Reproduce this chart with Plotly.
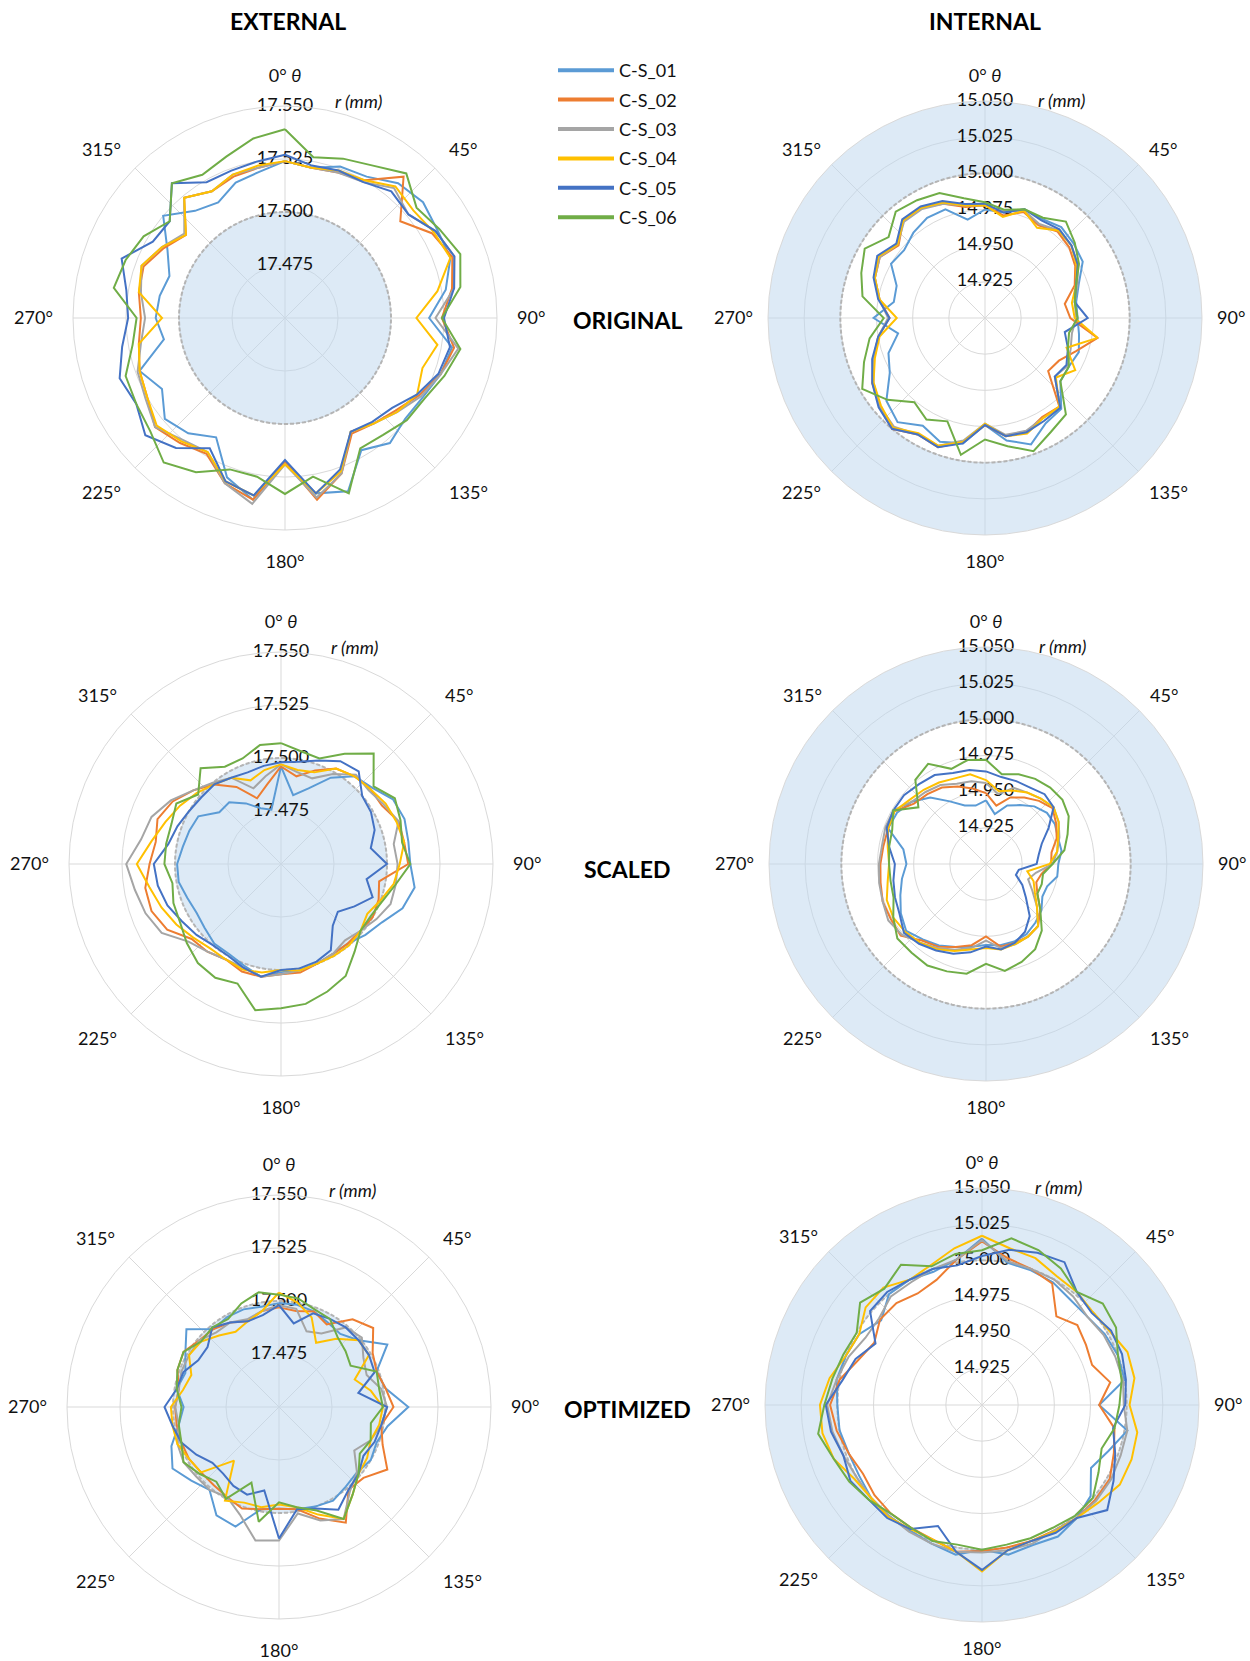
import numpy as np
import plotly.graph_objects as go

# ---------------- data ----------------
ANGLES = [0, 10, 20, 30, 40, 50, 60, 70, 80, 90, 100, 110, 120, 130, 140, 150, 160, 170,
          180, 190, 200, 210, 220, 230, 240, 250, 260, 270, 280, 290, 300, 310, 320, 330, 340, 350]
NAMES = ["C-S_01", "C-S_02", "C-S_03", "C-S_04", "C-S_05", "C-S_06"]
COLORS = ["#5B9BD5", "#ED7D31", "#A5A5A5", "#FFC000", "#4472C4", "#70AD47"]

ANG_TICKS = [0, 45, 90, 135, 180, 225, 270, 315]
ANG_LABELS = ["0° <i>θ</i>", "45°", "90°", "135°", "180°", "225°", "270°", "315°"]
EXT_TICKS = [17.475, 17.500, 17.525, 17.550]
EXT_TICK_TEXT = ["17.475", "17.500", "17.525", "17.550"]
INT_TICKS = [14.925, 14.950, 14.975, 15.000, 15.025, 15.050]
INT_TICK_TEXT = ["14.925", "14.950", "14.975", "15.000", "15.025", "15.050"]
EXT_RANGE = [17.45, 17.55]
INT_RANGE = [14.90, 15.05]
EXT_NOMINAL = 17.500
INT_NOMINAL = 15.000

# External - original
EO_01 = [17.524,17.522,17.526,17.527,17.533,17.535,17.533,17.533,17.527,17.518,17.530,17.528,17.525,17.524,17.527,17.522,17.537,17.534,17.518,17.537,17.530,17.515,17.521,17.524,17.517,17.523,17.508,17.511,17.510,17.508,17.514,17.525,17.516,17.513,17.518,17.520]
EO_02 = [17.524,17.522,17.523,17.525,17.537,17.521,17.530,17.534,17.530,17.524,17.531,17.528,17.523,17.518,17.515,17.513,17.528,17.537,17.518,17.537,17.533,17.524,17.527,17.530,17.525,17.523,17.520,17.518,17.520,17.521,17.516,17.511,17.524,17.519,17.521,17.522]
EO_03 = [17.524,17.522,17.523,17.524,17.530,17.526,17.532,17.535,17.531,17.521,17.533,17.528,17.524,17.519,17.515,17.512,17.528,17.536,17.519,17.539,17.533,17.523,17.525,17.530,17.526,17.524,17.519,17.516,17.519,17.522,17.517,17.512,17.524,17.519,17.522,17.522]
EO_04 = [17.524,17.522,17.524,17.525,17.531,17.529,17.531,17.533,17.523,17.512,17.523,17.519,17.522,17.519,17.515,17.512,17.527,17.534,17.519,17.535,17.532,17.523,17.526,17.529,17.525,17.523,17.520,17.508,17.520,17.522,17.517,17.511,17.524,17.519,17.522,17.523]
EO_05 = [17.527,17.523,17.524,17.524,17.528,17.526,17.532,17.535,17.531,17.525,17.529,17.527,17.522,17.516,17.514,17.512,17.526,17.534,17.517,17.535,17.532,17.521,17.530,17.536,17.531,17.533,17.528,17.524,17.526,17.532,17.522,17.521,17.533,17.524,17.524,17.525]
EO_06 = [17.539,17.527,17.530,17.533,17.539,17.531,17.534,17.538,17.534,17.524,17.534,17.530,17.526,17.525,17.522,17.521,17.538,17.526,17.533,17.526,17.526,17.534,17.539,17.533,17.531,17.530,17.523,17.520,17.532,17.530,17.527,17.521,17.533,17.528,17.531,17.536]

# Internal - original
IO_01 = [14.975,14.974,14.980,14.979,14.982,14.980,14.978,14.969,14.964,14.964,14.966,14.969,14.967,14.968,14.982,14.984,14.993,14.986,14.974,14.988,14.991,14.986,14.994,14.989,14.976,14.971,14.961,14.977,14.964,14.965,14.975,14.973,14.977,14.980,14.980,14.969]
IO_02 = [14.978,14.972,14.978,14.974,14.978,14.976,14.972,14.966,14.956,14.959,14.979,14.967,14.959,14.957,14.980,14.979,14.984,14.983,14.974,14.987,14.995,14.993,15.000,14.995,14.990,14.982,14.975,14.966,14.974,14.981,14.984,14.978,14.988,14.988,14.984,14.978]
IO_03 = [14.978,14.975,14.979,14.975,14.979,14.978,14.974,14.968,14.963,14.963,14.961,14.963,14.966,14.963,14.981,14.980,14.983,14.982,14.973,14.986,14.994,14.993,14.998,14.995,14.989,14.982,14.975,14.967,14.974,14.981,14.984,14.979,14.987,14.987,14.984,14.979]
IO_04 = [14.978,14.971,14.979,14.972,14.979,14.978,14.973,14.967,14.961,14.962,14.979,14.960,14.972,14.964,14.980,14.980,14.985,14.983,14.973,14.987,14.994,14.992,14.999,14.994,14.989,14.981,14.974,14.961,14.974,14.981,14.985,14.979,14.988,14.988,14.985,14.979]
IO_05 = [14.979,14.974,14.980,14.978,14.980,14.978,14.974,14.967,14.963,14.971,14.956,14.961,14.965,14.963,14.981,14.982,14.984,14.983,14.974,14.988,14.995,14.993,15.000,14.996,14.990,14.983,14.975,14.966,14.975,14.982,14.986,14.980,14.989,14.989,14.986,14.980]
IO_06 = [14.980,14.976,14.980,14.980,14.987,14.981,14.975,14.967,14.963,14.964,14.959,14.961,14.967,14.968,14.987,14.991,14.998,14.990,14.984,14.996,14.976,14.981,14.976,14.988,14.998,14.989,14.981,14.970,14.986,14.991,14.996,14.987,14.996,14.994,14.992,14.984]

# External - scaled
ES_01 = [17.496,17.483,17.488,17.497,17.504,17.506,17.511,17.512,17.511,17.511,17.514,17.511,17.505,17.502,17.499,17.499,17.500,17.501,17.501,17.504,17.501,17.499,17.499,17.497,17.496,17.497,17.499,17.499,17.497,17.496,17.495,17.488,17.488,17.483,17.478,17.476]
ES_02 = [17.496,17.492,17.497,17.502,17.504,17.505,17.505,17.509,17.509,17.510,17.497,17.499,17.500,17.499,17.499,17.499,17.500,17.502,17.502,17.504,17.504,17.502,17.504,17.505,17.512,17.515,17.515,17.512,17.510,17.512,17.509,17.504,17.499,17.492,17.483,17.488]
ES_03 = [17.497,17.494,17.493,17.499,17.505,17.504,17.506,17.509,17.504,17.505,17.505,17.505,17.502,17.499,17.497,17.499,17.500,17.501,17.502,17.504,17.502,17.502,17.504,17.507,17.515,17.518,17.520,17.523,17.517,17.515,17.510,17.504,17.500,17.497,17.488,17.492]
ES_04 = [17.497,17.495,17.496,17.502,17.504,17.505,17.507,17.508,17.509,17.506,17.504,17.500,17.497,17.499,17.500,17.500,17.500,17.501,17.500,17.502,17.503,17.502,17.502,17.504,17.507,17.510,17.513,17.518,17.512,17.508,17.505,17.502,17.499,17.497,17.492,17.495]
ES_05 = [17.498,17.499,17.502,17.506,17.507,17.500,17.499,17.497,17.493,17.500,17.491,17.496,17.490,17.485,17.488,17.497,17.499,17.500,17.500,17.504,17.502,17.500,17.500,17.502,17.504,17.507,17.509,17.510,17.504,17.502,17.500,17.499,17.499,17.497,17.496,17.497]
ES_06 = [17.507,17.504,17.503,17.510,17.518,17.507,17.512,17.510,17.508,17.511,17.505,17.501,17.499,17.499,17.504,17.511,17.514,17.517,17.518,17.520,17.510,17.512,17.511,17.508,17.505,17.504,17.502,17.505,17.505,17.505,17.507,17.501,17.509,17.503,17.503,17.507]

# Internal - scaled
IS_01 = [14.944,14.935,14.943,14.947,14.952,14.955,14.955,14.953,14.953,14.950,14.950,14.945,14.945,14.950,14.953,14.956,14.957,14.957,14.956,14.958,14.961,14.965,14.968,14.972,14.968,14.963,14.959,14.955,14.958,14.972,14.971,14.967,14.960,14.950,14.943,14.941]
IS_02 = [14.949,14.941,14.949,14.953,14.957,14.960,14.956,14.952,14.946,14.945,14.939,14.937,14.941,14.949,14.956,14.958,14.958,14.958,14.950,14.957,14.961,14.966,14.969,14.977,14.976,14.976,14.974,14.973,14.972,14.972,14.973,14.965,14.963,14.961,14.957,14.953]
IS_03 = [14.956,14.949,14.956,14.957,14.959,14.961,14.958,14.954,14.950,14.946,14.935,14.931,14.937,14.946,14.956,14.958,14.959,14.959,14.953,14.959,14.963,14.967,14.971,14.976,14.978,14.976,14.975,14.974,14.973,14.974,14.974,14.967,14.965,14.963,14.959,14.958]
IS_04 = [14.958,14.951,14.954,14.957,14.959,14.961,14.958,14.953,14.950,14.944,14.929,14.935,14.939,14.946,14.956,14.958,14.959,14.960,14.958,14.960,14.964,14.968,14.971,14.973,14.974,14.973,14.969,14.967,14.969,14.972,14.973,14.969,14.967,14.965,14.963,14.963]
IS_05 = [14.964,14.961,14.961,14.961,14.963,14.961,14.950,14.941,14.937,14.935,14.923,14.922,14.929,14.936,14.947,14.954,14.958,14.960,14.957,14.962,14.966,14.969,14.972,14.974,14.969,14.967,14.965,14.963,14.968,14.973,14.974,14.974,14.972,14.971,14.967,14.966]
IS_06 = [14.972,14.963,14.966,14.968,14.969,14.969,14.966,14.960,14.955,14.946,14.940,14.941,14.941,14.949,14.960,14.968,14.972,14.975,14.969,14.977,14.979,14.981,14.980,14.980,14.974,14.968,14.967,14.967,14.968,14.969,14.974,14.961,14.976,14.980,14.970,14.973]

# External - optimized
EP_01 = [17.499,17.499,17.498,17.496,17.495,17.499,17.509,17.499,17.501,17.511,17.502,17.499,17.500,17.498,17.499,17.501,17.500,17.499,17.498,17.499,17.510,17.509,17.501,17.504,17.508,17.504,17.498,17.495,17.499,17.497,17.501,17.507,17.498,17.499,17.499,17.498]
EP_02 = [17.497,17.496,17.498,17.495,17.504,17.508,17.501,17.499,17.501,17.504,17.499,17.502,17.509,17.502,17.501,17.513,17.506,17.499,17.498,17.499,17.501,17.499,17.498,17.498,17.499,17.499,17.499,17.499,17.498,17.501,17.502,17.499,17.498,17.496,17.493,17.496]
EP_03 = [17.498,17.497,17.488,17.490,17.499,17.501,17.496,17.494,17.499,17.501,17.499,17.496,17.491,17.498,17.502,17.511,17.507,17.501,17.513,17.514,17.504,17.499,17.501,17.501,17.502,17.501,17.498,17.499,17.498,17.499,17.499,17.499,17.496,17.496,17.494,17.496]
EP_04 = [17.504,17.500,17.495,17.485,17.492,17.499,17.499,17.488,17.494,17.499,17.498,17.496,17.498,17.499,17.504,17.511,17.504,17.498,17.496,17.498,17.498,17.501,17.483,17.498,17.499,17.501,17.501,17.501,17.496,17.494,17.499,17.498,17.494,17.491,17.493,17.496]
EP_05 = [17.498,17.490,17.497,17.498,17.499,17.499,17.499,17.498,17.488,17.501,17.499,17.498,17.496,17.499,17.501,17.506,17.501,17.499,17.512,17.490,17.494,17.493,17.491,17.491,17.495,17.499,17.501,17.504,17.499,17.498,17.494,17.494,17.499,17.496,17.493,17.494]
EP_06 = [17.503,17.502,17.499,17.498,17.493,17.491,17.489,17.499,17.498,17.499,17.494,17.496,17.494,17.499,17.504,17.511,17.502,17.498,17.495,17.505,17.488,17.500,17.496,17.499,17.502,17.499,17.498,17.496,17.499,17.501,17.502,17.498,17.499,17.498,17.502,17.505]

# Internal - optimized
IP_01 = [15.015,15.000,14.999,14.998,14.995,14.995,14.998,15.000,15.000,14.981,15.002,14.993,14.987,14.998,15.002,15.005,15.003,15.005,15.000,15.005,15.002,15.000,15.000,15.000,14.998,14.998,15.000,15.000,15.002,15.000,14.998,14.991,15.000,15.000,14.998,15.002]
IP_02 = [15.013,15.003,15.000,14.997,14.980,14.986,14.983,14.981,14.990,14.981,14.993,14.997,15.002,15.002,15.002,15.000,15.000,15.000,15.001,15.003,14.999,14.998,14.998,14.997,14.995,14.998,15.002,15.005,15.000,14.991,14.986,14.992,14.992,14.989,14.992,15.002]
IP_03 = [15.014,15.001,15.000,15.000,14.998,14.995,14.997,14.998,14.999,14.998,15.002,15.002,15.003,15.003,15.002,15.000,15.002,15.002,15.002,15.003,15.002,15.001,15.000,15.000,15.000,15.002,15.005,15.007,15.002,14.998,14.993,14.993,14.998,14.998,15.000,15.002]
IP_04 = [15.017,15.010,15.008,15.003,15.002,15.000,15.002,15.007,15.007,15.002,15.009,15.010,15.010,15.005,15.002,15.001,15.000,15.002,15.015,15.003,14.999,14.999,15.001,15.000,15.002,15.009,15.012,15.012,15.007,15.000,14.998,15.005,15.006,15.000,15.003,15.010]
IP_05 = [15.003,15.009,15.012,15.014,15.002,14.999,15.003,15.003,15.001,14.999,14.992,14.998,15.005,15.013,15.002,15.002,15.000,15.002,15.014,15.003,14.989,14.999,15.002,15.002,15.005,15.002,15.006,15.008,14.998,14.993,14.985,15.001,15.002,15.000,15.000,14.998]
IP_06 = [15.007,15.017,15.014,15.009,15.002,15.009,15.007,15.000,14.998,14.995,14.993,14.988,14.993,15.000,15.000,14.998,14.998,14.998,15.000,14.998,15.000,14.998,14.998,15.002,15.006,15.009,15.015,15.009,15.005,15.002,15.000,15.010,15.005,15.012,15.002,15.006]

# ---------------- layout ----------------
W, H = 1250, 1661
FONT = "Lato"
TXT = "#111111"
R_EXT, R_INT = 212, 217

PANELS = [
    dict(series=[EO_01, EO_02, EO_03, EO_04, EO_05, EO_06], kind="ext", cx=285, cy=318),
    dict(series=[IO_01, IO_02, IO_03, IO_04, IO_05, IO_06], kind="int", cx=985, cy=318),
    dict(series=[ES_01, ES_02, ES_03, ES_04, ES_05, ES_06], kind="ext", cx=281, cy=864),
    dict(series=[IS_01, IS_02, IS_03, IS_04, IS_05, IS_06], kind="int", cx=986, cy=864),
    dict(series=[EP_01, EP_02, EP_03, EP_04, EP_05, EP_06], kind="ext", cx=279, cy=1407),
    dict(series=[IP_01, IP_02, IP_03, IP_04, IP_05, IP_06], kind="int", cx=982, cy=1405),
]

fig = go.Figure()
layout_polars = {}
annotations = []
band_theta = list(np.linspace(0, 360, 241))

for i, p in enumerate(PANELS):
    sub = "polar" if i == 0 else f"polar{i + 1}"
    if p["kind"] == "ext":
        rng, ticks, ticktext, nominal, R = EXT_RANGE, EXT_TICKS, EXT_TICK_TEXT, EXT_NOMINAL, R_EXT
        band_r = [nominal] * len(band_theta)
        band_t = band_theta
    else:
        rng, ticks, ticktext, nominal, R = INT_RANGE, INT_TICKS, INT_TICK_TEXT, INT_NOMINAL, R_INT
        band_r = [rng[1]] * len(band_theta) + [nominal] * len(band_theta)
        band_t = band_theta + band_theta[::-1]

    # tolerance band
    fig.add_trace(go.Scatterpolar(
        r=band_r, theta=band_t, mode="lines", fill="toself",
        fillcolor="rgba(189,215,238,0.52)", line=dict(width=0, color="rgba(0,0,0,0)"),
        subplot=sub, showlegend=False, hoverinfo="skip"))
    # nominal dashed circle
    fig.add_trace(go.Scatterpolar(
        r=[nominal] * len(band_theta), theta=band_theta, mode="lines",
        line=dict(color="#B4B4B4", width=2, dash="4px,2px"),
        subplot=sub, showlegend=False, hoverinfo="skip"))
    # radial tick labels
    fig.add_trace(go.Scatterpolar(
        r=ticks, theta=[0] * len(ticks), mode="text", text=ticktext,
        textposition="middle center", textfont=dict(family=FONT, size=18, color=TXT),
        cliponaxis=False, subplot=sub, showlegend=False, hoverinfo="skip"))
    # measured profiles
    for k, vals in enumerate(p["series"]):
        fig.add_trace(go.Scatterpolar(
            r=vals + [vals[0]], theta=ANGLES + [360], mode="lines",
            line=dict(color=COLORS[k], width=2), name=NAMES[k],
            legendgroup=NAMES[k], showlegend=False, subplot=sub))

    cx, cy = p["cx"], p["cy"]
    layout_polars[sub] = dict(
        domain=dict(x=[(cx - R) / W, (cx + R) / W],
                    y=[1 - (cy + R) / H, 1 - (cy - R) / H]),
        bgcolor="white",
        angularaxis=dict(
            rotation=90, direction="clockwise", tickmode="array",
            tickvals=ANG_TICKS, ticktext=ANG_LABELS,
            tickfont=dict(family=FONT, size=18, color=TXT),
            ticks="outside", ticklen=228 - R, tickcolor="rgba(0,0,0,0)",
            showgrid=True, gridcolor="#D9D9D9", gridwidth=1,
            showline=True, linecolor="#D9D9D9", linewidth=1),
        radialaxis=dict(
            range=rng, tickmode="array", tickvals=ticks, showticklabels=False,
            ticks="", showline=False, showgrid=True, gridcolor="#D9D9D9", gridwidth=1),
    )
    dx, dy = (73, R + 5) if p["kind"] == "ext" else (76, R + 1)
    annotations.append(dict(
        x=(cx + dx) / W, y=1 - (cy - dy) / H, xref="paper", yref="paper",
        text="<i>r (mm)</i>", showarrow=False, xanchor="center", yanchor="middle",
        font=dict(family=FONT, size=18, color=TXT)))

# legend entries (thicker line samples, as in the reference legend)
for k in range(6):
    fig.add_trace(go.Scatterpolar(
        r=[None], theta=[None], mode="lines", line=dict(color=COLORS[k], width=4),
        name=NAMES[k], legendgroup=NAMES[k], showlegend=True, subplot="polar",
        hoverinfo="skip"))

# titles and row labels
for txt, x, y in [("EXTERNAL", 288, 21), ("INTERNAL", 985, 21),
                  ("ORIGINAL", 627, 320), ("SCALED", 627, 869), ("OPTIMIZED", 627, 1409)]:
    annotations.append(dict(
        x=x / W, y=1 - y / H, xref="paper", yref="paper", text=f"<b>{txt}</b>",
        showarrow=False, xanchor="center", yanchor="middle",
        font=dict(family=FONT, size=23, color="#000000")))

fig.update_layout(
    width=W, height=H, autosize=False,
    margin=dict(l=0, r=0, t=0, b=0),
    paper_bgcolor="white", plot_bgcolor="white",
    font=dict(family=FONT, size=18, color=TXT),
    annotations=annotations,
    legend=dict(x=553 / W, y=1 - 52 / H, xanchor="left", yanchor="top",
                font=dict(family=FONT, size=18, color=TXT),
                tracegroupgap=3, bgcolor="rgba(0,0,0,0)", itemwidth=56),
    **layout_polars,
)

fig.write_html("out.html", config={"displayModeBar": False},
               post_script="document.body.style.margin='0';")
